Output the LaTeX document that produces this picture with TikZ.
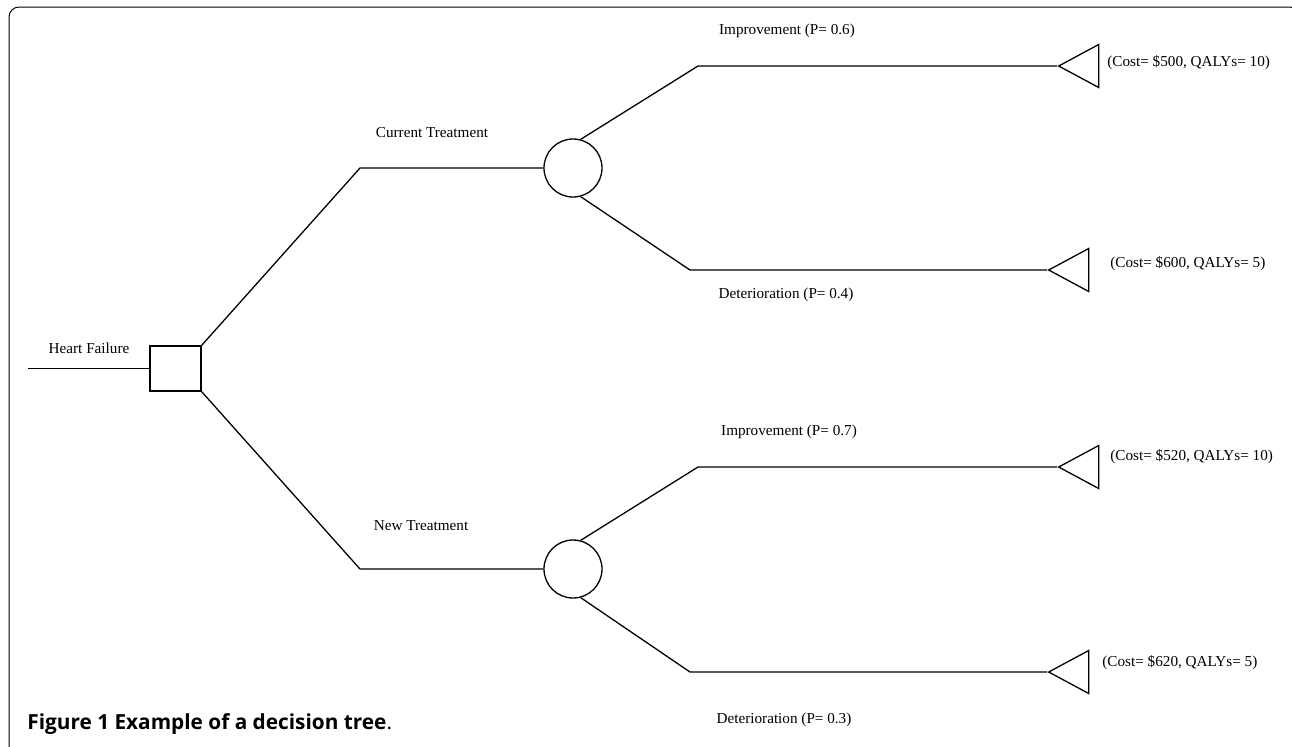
\documentclass[tikz,border=0pt]{standalone}
\usepackage{fontspec}
\setmainfont{Liberation Serif}
\setsansfont{Open Sans}
\usetikzlibrary{positioning,shapes.geometric}
\tikzset{%
  tree/.style={line width=0.65pt},% branch lines
  decision/.style={draw, tree, rectangle, minimum width=25.5pt, minimum height=22.5pt, inner sep=0pt},% decision node
  chance/.style={draw, tree, circle, minimum size=29pt, inner sep=0pt},% chance node
  terminal/.style={draw, tree, isosceles triangle, isosceles triangle stretches,
    shape border rotate=180, minimum width=21.5pt, minimum height=20pt,
    inner sep=0pt, anchor=apex},% end node
  lbl/.style={inner sep=0pt, font=\fontsize{7.6}{9}\selectfont},% branch text
  payoff/.style={lbl, anchor=west},% cost and QALYs
  caption/.style={inner sep=0pt, anchor=base west, font=\sffamily\fontsize{10.4}{12}\selectfont}
}
\begin{document}
\begin{tikzpicture}[x=0.5pt, y=-0.5pt]
\useasboundingbox (0,0) rectangle (1292,746);
\draw[line width=0.5pt, rounded corners=5pt] (9,7) rectangle (1300,756);

\node[decision] (d) at (175.5,368.5) {};
\node[chance] (c1) at (573,168) {};
\node[chance] (c2) at (573,569) {};
\node[terminal] (t1) at (1057,66) {};
\node[terminal] (t2) at (1047,270) {};
\node[terminal] (t3) at (1057,467) {};
\node[terminal] (t4) at (1047,672) {};

\coordinate (s) at (28,368.5);
\coordinate (k1) at (360,168);
\coordinate (k2) at (360,569);
\coordinate (k3) at (698,66);
\coordinate (k4) at (690,270);
\coordinate (k5) at (698,467);
\coordinate (k6) at (690,672);

\draw[tree] (s) -- (d.west);
\draw[tree] (d.north east) -- (k1) -- (c1.west);
\draw[tree] (d.south east) -- (k2) -- (c2.west);
\draw[tree] (c1.75) -- (k3) -- (t1.apex);
\draw[tree] (c1.-75) -- (k4) -- (t2.apex);
\draw[tree] (c2.75) -- (k5) -- (t3.apex);
\draw[tree] (c2.-75) -- (k6) -- (t4.apex);

\node[lbl] (hf) at (89,348) {Heart Failure};
\node[lbl] (ct) at (432,133) {Current Treatment};
\node[lbl] (nt) at (421,526) {New Treatment};
\node[lbl] (i1) at (787,31) {Improvement (P= 0.6)};
\node[lbl] (d1) at (786,295) {Deterioration (P= 0.4)};
\node[lbl] (i2) at (789,432) {Improvement (P= 0.7)};
\node[lbl] (d2) at (784,720) {Deterioration (P= 0.3)};

\node[payoff] (p1) at (1107,63) {(Cost= \$500, QALYs= 10)};
\node[payoff] (p2) at (1110,264) {(Cost= \$600, QALYs= 5)};
\node[payoff] (p3) at (1110,457) {(Cost= \$520, QALYs= 10)};
\node[payoff] (p4) at (1102,663) {(Cost= \$620, QALYs= 5)};

\node[caption] (cap) at (27,729) {\textbf{Figure 1 Example of a decision tree}.};
\end{tikzpicture}
\end{document}
